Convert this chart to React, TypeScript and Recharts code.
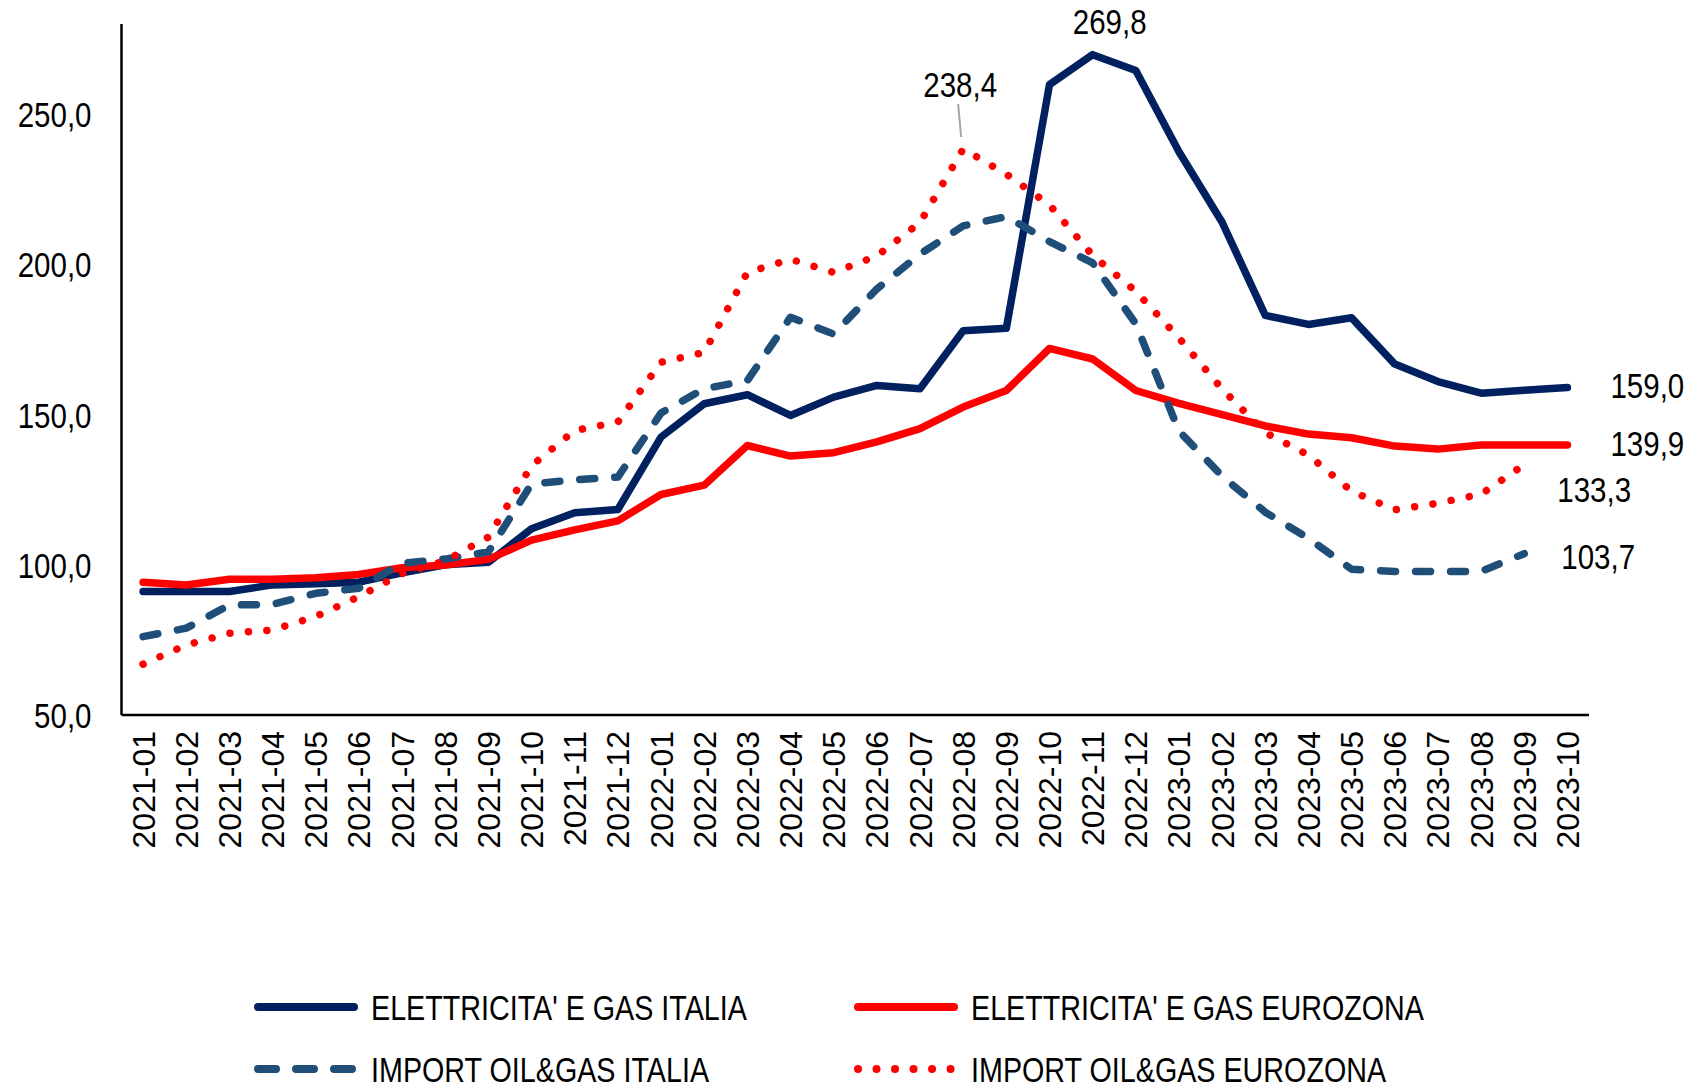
import React from 'react';
import { LineChart, Line, XAxis, YAxis, Legend, LabelList } from 'recharts';

const months = [
  '2021-01', '2021-02', '2021-03', '2021-04', '2021-05', '2021-06', '2021-07', '2021-08', '2021-09', '2021-10', '2021-11', '2021-12',
  '2022-01', '2022-02', '2022-03', '2022-04', '2022-05', '2022-06', '2022-07', '2022-08', '2022-09', '2022-10', '2022-11', '2022-12',
  '2023-01', '2023-02', '2023-03', '2023-04', '2023-05', '2023-06', '2023-07', '2023-08', '2023-09', '2023-10',
];

const elettricitaItalia = [
  91.1, 91.1, 91.1, 93.3, 93.7, 94.2, 97.3, 100.0, 100.8, 112.0, 117.3, 118.4,
  142.5, 153.6, 156.6, 149.7, 155.8, 159.7, 158.6, 177.9, 178.7, 259.8, 269.8, 264.5,
  237.5, 214.0, 183.0, 180.0, 182.2, 166.8, 161.0, 157.1, 158.1, 159.0,
];

const elettricitaEurozona = [
  94.2, 93.3, 95.2, 95.2, 95.7, 96.8, 99.0, 99.9, 101.8, 108.2, 111.6, 114.6,
  123.4, 126.5, 139.7, 136.2, 137.3, 140.9, 145.3, 152.5, 158.0, 172.0, 168.5, 158.0,
  153.7, 150.0, 146.2, 143.5, 142.3, 139.5, 138.5, 139.9, 139.9, 139.9,
];

const importItalia = [
  76.1, 78.9, 86.6, 86.8, 90.5, 92.2, 100.5, 101.9, 104.3, 126.9, 128.3, 129.2,
  150.5, 158.6, 161.3, 182.4, 176.8, 191.8, 203.4, 212.8, 215.9, 207.6, 200.5, 180.2,
  144.5, 129.5, 117.5, 108.8, 98.5, 97.8, 97.8, 97.8, 103.7, null,
];

const importEurozona = [
  66.9, 73.3, 77.2, 78.3, 82.8, 89.4, 97.1, 101.3, 109.2, 133.0, 144.7, 147.5,
  167.4, 170.7, 197.3, 201.7, 197.3, 202.8, 213.9, 238.4, 230.0, 219.8, 203.0, 191.0,
  175.5, 158.5, 144.0, 136.5, 124.5, 118.3, 120.5, 123.5, 133.3, null,
];

const seriesNames = [
  "ELETTRICITA' E GAS ITALIA",
  "ELETTRICITA' E GAS EUROZONA",
  'IMPORT OIL&GAS ITALIA',
  'IMPORT OIL&GAS EUROZONA',
];

const yTicks = [50, 100, 150, 200, 250];
const yDomain = [50, 280];
const boundaryTicks = months.map((_, i) => i).concat([months.length]);

const data = months.map((m, i) => ({
  month: m,
  elIt: elettricitaItalia[i],
  elEu: elettricitaEurozona[i],
  impIt: importItalia[i],
  impEu: importEurozona[i],
}));

const FONT = "'Liberation Sans', Arial, Helvetica, sans-serif";
const NARROW = 0.82;
const NAVY = '#002060';
const STEEL = '#1F4E79';
const RED = '#FF0000';

const fmt = (v: number) => v.toFixed(1).replace('.', ',');

const YTick = (props: any) => {
  const { x, y, payload } = props;
  return (
    <text
      transform={`translate(${x},${y}) scale(${NARROW},1)`}
      textAnchor="end"
      dy="0.36em"
      fontSize={36}
      fontFamily={FONT}
      fill="#000"
    >
      {fmt(payload.value)}
    </text>
  );
};

const XTick = (props: any) => {
  const { x, y, payload } = props;
  return (
    <text
      transform={`translate(${x},${y}) rotate(-90)`}
      textAnchor="end"
      dy="0.36em"
      fontSize={32}
      fontFamily={FONT}
      fill="#000"
    >
      {payload.value}
    </text>
  );
};

type LabelSpec = { index: number; dx: number; dy: number; anchor: 'start' | 'middle' | 'end'; leader?: [number, number, number, number] };

const makeLabel = (specs: LabelSpec[]) => (props: any) => {
  const { x, y, value, index } = props;
  const spec = specs.find((s) => s.index === index);
  if (!spec || value == null) return null;
  return (
    <g>
      {spec.leader && (
        <line
          x1={x + spec.leader[0]}
          y1={y + spec.leader[1]}
          x2={x + spec.leader[2]}
          y2={y + spec.leader[3]}
          stroke="#A6A6A6"
          strokeWidth={2}
        />
      )}
      <text
        transform={`translate(${x + spec.dx},${y + spec.dy}) scale(${NARROW},1)`}
        textAnchor={spec.anchor}
        dy="0.36em"
        fontSize={36}
        fontFamily={FONT}
        fill="#000"
      >
        {fmt(Number(value))}
      </text>
    </g>
  );
};

const legendItems = [
  { name: seriesNames[0], color: NAVY, dash: undefined as string | undefined, col: 0, row: 0 },
  { name: seriesNames[1], color: RED, dash: undefined as string | undefined, col: 1, row: 0 },
  { name: seriesNames[2], color: STEEL, dash: '18 20', col: 0, row: 1 },
  { name: seriesNames[3], color: RED, dash: '0.01 18.5', col: 1, row: 1 },
];

const renderLegend = () => (
  <svg width={1686} height={128} style={{ display: 'block' }}>
    {legendItems.map((it) => {
      const x0 = 258 + it.col * 600;
      const cy = 47 + it.row * 62;
      return (
        <g key={it.name}>
          <line
            x1={x0}
            y1={cy}
            x2={x0 + 96}
            y2={cy}
            stroke={it.color}
            strokeWidth={8}
            strokeLinecap="round"
            strokeDasharray={it.dash}
          />
          <text
            transform={`translate(${x0 + 113},${cy}) scale(${NARROW},1)`}
            dy="0.36em"
            fontSize={35}
            fontFamily={FONT}
            fill="#000"
          >
            {it.name}
          </text>
        </g>
      );
    })}
  </svg>
);

export default function App() {
  return (
    <div style={{ position: 'absolute', left: 0, top: 0, width: 1686, height: 1089, background: '#fff', overflow: 'hidden' }}>
      <LineChart width={1686} height={1089} data={data} margin={{ top: 24, right: 97, left: 0, bottom: 0 }}>
        <XAxis
          xAxisId="bound"
          type="number"
          domain={[0, months.length]}
          allowDataOverflow
          ticks={boundaryTicks}
          interval={0}
          height={1}
          tick={false}
          tickSize={12}
          tickLine={{ stroke: '#000', strokeWidth: 2.5 }}
          axisLine={{ stroke: '#000', strokeWidth: 2.5 }}
        />
        <XAxis
          xAxisId="cat"
          dataKey="month"
          type="category"
          interval={0}
          height={373}
          padding={{ left: 21.58, right: 21.58 }}
          axisLine={false}
          tickLine={false}
          tickSize={0}
          tickMargin={15}
          tick={<XTick />}
        />
        <YAxis
          width={121.5}
          domain={yDomain}
          ticks={yTicks}
          interval={0}
          allowDataOverflow
          axisLine={{ stroke: '#000', strokeWidth: 2.5 }}
          tickLine={false}
          tickSize={0}
          tickMargin={30}
          tick={<YTick />}
        />
        <Legend
          verticalAlign="middle"
          align="center"
          layout="horizontal"
          wrapperStyle={{ left: 0, top: 960, width: 1686, height: 128 }}
          content={renderLegend}
        />
        <Line
          xAxisId="cat"
          dataKey="elIt"
          name={seriesNames[0]}
          stroke={NAVY}
          strokeWidth={7.5}
          strokeLinecap="round"
          strokeLinejoin="round"
          dot={false}
          activeDot={false}
          isAnimationActive={false}
        >
          <LabelList
            dataKey="elIt"
            content={makeLabel([
              { index: 22, dx: 17, dy: -34, anchor: 'middle' },
              { index: 33, dx: 43, dy: -2, anchor: 'start' },
            ])}
          />
        </Line>
        <Line
          xAxisId="cat"
          dataKey="elEu"
          name={seriesNames[1]}
          stroke={RED}
          strokeWidth={7.5}
          strokeLinecap="round"
          strokeLinejoin="round"
          dot={false}
          activeDot={false}
          isAnimationActive={false}
        >
          <LabelList dataKey="elEu" content={makeLabel([{ index: 33, dx: 43, dy: -2, anchor: 'start' }])} />
        </Line>
        <Line
          xAxisId="cat"
          dataKey="impIt"
          name={seriesNames[2]}
          stroke={STEEL}
          strokeWidth={7.5}
          strokeDasharray="15 20"
          strokeLinecap="round"
          strokeLinejoin="round"
          dot={false}
          activeDot={false}
          isAnimationActive={false}
        >
          <LabelList dataKey="impIt" content={makeLabel([{ index: 32, dx: 37, dy: 2, anchor: 'start' }])} />
        </Line>
        <Line
          xAxisId="cat"
          dataKey="impEu"
          name={seriesNames[3]}
          stroke={RED}
          strokeWidth={7.5}
          strokeDasharray="0.01 18.5"
          strokeLinecap="round"
          strokeLinejoin="round"
          dot={false}
          activeDot={false}
          isAnimationActive={false}
        >
          <LabelList
            dataKey="impEu"
            content={makeLabel([
              { index: 19, dx: -3, dy: -65, anchor: 'middle', leader: [-5, -45, -2, -12] },
              { index: 32, dx: 33, dy: 24, anchor: 'start' },
            ])}
          />
        </Line>
      </LineChart>
    </div>
  );
}
